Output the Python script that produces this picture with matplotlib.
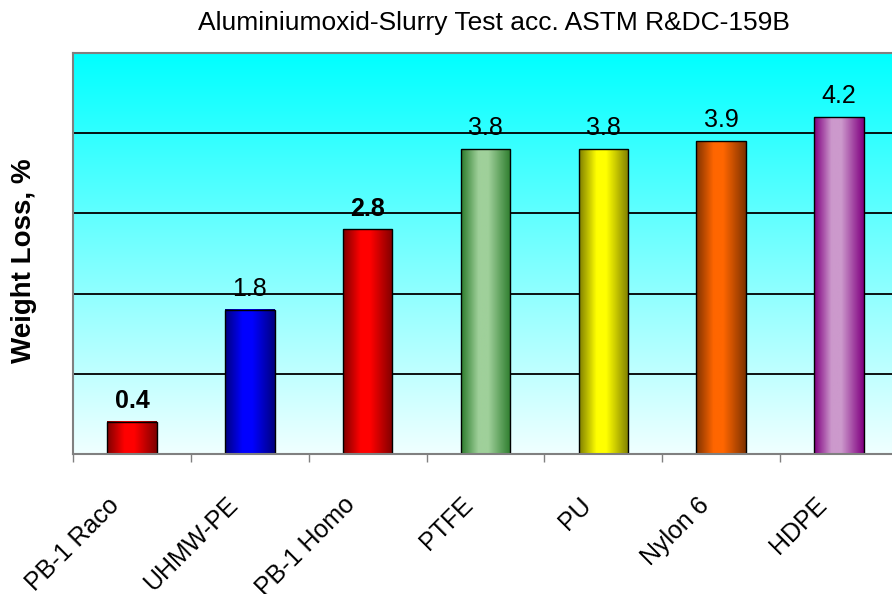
import matplotlib

matplotlib.use("Agg")
import matplotlib.pyplot as plt
import numpy as np
from matplotlib.colors import LinearSegmentedColormap
from matplotlib.transforms import ScaledTranslation

plt.rcParams["font.family"] = ["Liberation Sans", "DejaVu Sans"]

TITLE = "Aluminiumoxid-Slurry Test acc. ASTM R&DC-159B"
YLABEL = "Weight Loss, %"
materials = ["PB-1 Raco", "UHMW-PE", "PB-1 Homo", "PTFE", "PU", "Nylon 6", "HDPE"]
weight_loss = [0.4, 1.8, 2.8, 3.8, 3.8, 3.9, 4.2]
bold_labels = [True, False, True, False, False, False, False]
dark_colors = ["#800000", "#000080", "#800000", "#2E7D2E", "#808000", "#803300", "#800080"]
light_colors = ["#FF0000", "#0000FF", "#FF0000", "#9FD09A", "#FFFF00", "#FF6600", "#CC99CC"]

fig = plt.figure(figsize=(8.92, 5.94), dpi=100)
ax = fig.add_axes([73 / 892, 140 / 594, 825 / 892, 401 / 594])
ax.set_xlim(-0.5, len(materials) - 0.5)
ax.set_ylim(0, 5)

# background: cyan at the top fading to almost white at the bottom
bg = np.linspace(0, 1, 256).reshape(-1, 1)
bg_cmap = LinearSegmentedColormap.from_list("bg", ["#F0FFFF", "#00FFFF"])
ax.imshow(bg, cmap=bg_cmap, origin="lower", aspect="auto",
          extent=(-0.5, len(materials) - 0.5, 0, 5), zorder=0)

ax.set_yticks([1, 2, 3, 4])
ax.yaxis.grid(True, color="black", linewidth=1.3, zorder=1)
ax.tick_params(axis="y", length=0, labelleft=False)

x = np.arange(len(materials))
bars = ax.bar(x, weight_loss, width=0.42, facecolor="none", edgecolor="black",
              linewidth=1.0, zorder=3)

shade = np.linspace(0, 1, 64).reshape(1, -1)
for bar, dark, light in zip(bars, dark_colors, light_colors):
    cmap = LinearSegmentedColormap.from_list(
        "cyl", [(0.0, dark), (0.35, light), (0.55, light), (1.0, dark)])
    bx, bw, bh = bar.get_x(), bar.get_width(), bar.get_height()
    ax.imshow(shade, cmap=cmap, aspect="auto", extent=(bx, bx + bw, 0, bh), zorder=2)

for xi, val, bold in zip(x, weight_loss, bold_labels):
    ax.annotate(f"{val:.1f}", (xi, val), xytext=(0, 10), textcoords="offset points",
                ha="center", va="baseline", fontsize=18,
                fontweight="bold" if bold else "normal")

ax.set_xticks(x)
ax.set_xticklabels(materials, rotation=45, ha="right", va="center",
                   rotation_mode="anchor", fontsize=18)
ax.tick_params(axis="x", which="major", length=0, pad=34)
ax.set_xticks(np.arange(-0.5, len(materials)), minor=True)
ax.tick_params(axis="x", which="minor", length=6, width=1, color="#808080", direction="out")
shift = ScaledTranslation(-16 / 100, 0, fig.dpi_scale_trans)
for lab in ax.get_xticklabels():
    lab.set_transform(lab.get_transform() + shift)

for side in ["top", "left", "bottom", "right"]:
    ax.spines[side].set_color("#808080")
    ax.spines[side].set_linewidth(1.5)
    ax.spines[side].set_zorder(4)

ax.set_ylabel(YLABEL, fontsize=20, fontweight="bold")
ax.yaxis.set_label_coords(-36 / 825, (454 - 261) / 401)
fig.text(494 / 892, 1 - 23 / 594, TITLE, ha="center", va="center", fontsize=19)

fig.savefig("out.png", dpi=100)
